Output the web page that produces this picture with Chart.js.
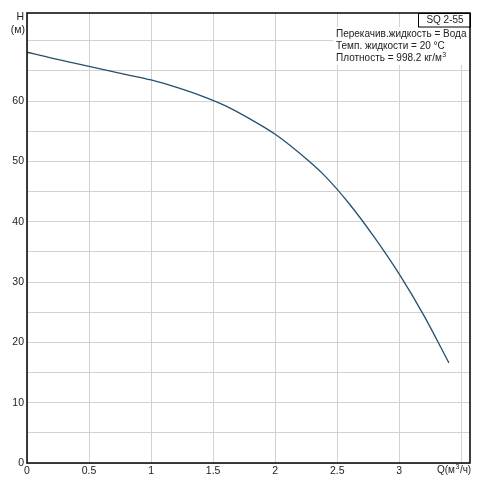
<!DOCTYPE html>
<html>
<head>
<meta charset="utf-8">
<script src="https://cdn.jsdelivr.net/npm/chart.js@4"></script>
<style>
html,body{margin:0;padding:0;background:#fff;}
#c{display:block;}
</style>
</head>
<body>
<canvas id="c" width="484" height="481"></canvas>
<script>
const flowQ = [0, 0.2, 0.4, 0.6, 0.8, 1.0, 1.2, 1.4, 1.6, 1.8, 2.0, 2.2, 2.4, 2.6, 2.8, 3.0, 3.2, 3.4];
const headH = [68.1, 67.1, 66.2, 65.3, 64.4, 63.5, 62.3, 60.9, 59.2, 57.0, 54.5, 51.3, 47.6, 42.9, 37.4, 31.3, 24.4, 16.6];
const xTickLabels = ['0', '0.5', '1', '1.5', '2', '2.5', '3'];
const yTickLabels = ['0', '10', '20', '30', '40', '50', '60'];
const pumpName = 'SQ 2-55';
const infoLines = ['Перекачив.жидкость = Вода', 'Темп. жидкости = 20 °C', 'Плотность = 998.2 кг/м'];

const FONT = 'Liberation Sans, Arial, sans-serif';

const overlay = {
  id: 'overlay',
  afterDraw(chart) {
    const ctx = chart.ctx;
    const a = chart.chartArea;
    ctx.save();
    // info block
    ctx.fillStyle = '#fff';
    ctx.fillRect(333, a.top + 14, a.right - 334, 38);
    ctx.strokeStyle = '#000';
    ctx.lineWidth = 1;
    ctx.fillStyle = '#fff';
    ctx.fillRect(418, a.top, a.right - 418, 14);
    ctx.strokeRect(418.5, a.top + 0.5, a.right - 418, 13.5);
    ctx.fillStyle = '#222';
    ctx.font = '10px ' + FONT;
    ctx.textBaseline = 'middle';
    ctx.textAlign = 'center';
    ctx.fillText(pumpName, (418 + a.right) / 2 + 1, a.top + 7.5);
    ctx.textAlign = 'left';
    ctx.fillText(infoLines[0], 336, a.top + 21);
    ctx.fillText(infoLines[1], 336, a.top + 33);
    ctx.fillText(infoLines[2], 336, a.top + 45);
    const w2 = ctx.measureText(infoLines[2]).width;
    ctx.font = '7px ' + FONT;
    ctx.fillText('3', 336 + w2 + 0.5, a.top + 42);
    // frame
    ctx.strokeStyle = '#000';
    ctx.lineWidth = 1.5;
    ctx.strokeRect(a.left, a.top, a.right - a.left, a.bottom - a.top);
    // axis titles
    ctx.fillStyle = '#222';
    ctx.font = '10.5px ' + FONT;
    ctx.textAlign = 'right';
    ctx.fillText('H', 24, 17);
    ctx.fillText('(м)', 25, 30);
    // Q label
    ctx.textAlign = 'left';
    ctx.font = '10px ' + FONT;
    let x = 437;
    const y = 470;
    ctx.fillText('Q(м', x, y);
    x += ctx.measureText('Q(м').width;
    ctx.font = '7px ' + FONT;
    ctx.fillText('3', x + 0.5, y - 3);
    x += ctx.measureText('3').width + 1;
    ctx.font = '10px ' + FONT;
    ctx.fillText('/ч)', x, y);
    ctx.restore();
  }
};

new Chart(document.getElementById('c'), {
  type: 'line',
  data: {
    datasets: [{
      data: flowQ.map((q, i) => ({x: q, y: headH[i]})),
      borderColor: '#24506e',
      borderWidth: 1.3,
      pointRadius: 0,
      fill: false,
      cubicInterpolationMode: 'monotone'
    }]
  },
  options: {
    responsive: false,
    animation: false,
    events: [],
    layout: {padding: {left: 0, top: 13, right: 14, bottom: 0}},
    plugins: {legend: {display: false}, tooltip: {enabled: false}},
    scales: {
      x: {
        type: 'linear',
        min: 0,
        max: 3.57,
        afterFit(s) { s.height = 18; },
        afterBuildTicks(s) {
          s.ticks = [0, 0.5, 1, 1.5, 2, 2.5, 3, 3.5].map(v => ({value: v}));
        },
        grid: {color: '#d2d2d2', lineWidth: 1, drawTicks: false},
        border: {display: false},
        ticks: {
          padding: 2,
          maxRotation: 0,
          autoSkip: false,
          color: '#222',
          font: {family: FONT, size: 10.5},
          callback(v) { const i = [0, 0.5, 1, 1.5, 2, 2.5, 3].indexOf(v); return i >= 0 ? xTickLabels[i] : ''; }
        }
      },
      y: {
        type: 'linear',
        min: 0,
        max: 74.6,
        afterFit(s) { s.width = 27; },
        afterBuildTicks(s) {
          const t = [];
          for (let v = 0; v <= 70; v += 5) t.push({value: v});
          s.ticks = t;
        },
        grid: {color: '#d2d2d2', lineWidth: 1, drawTicks: false},
        border: {display: false},
        ticks: {
          padding: 3,
          autoSkip: false,
          color: '#222',
          font: {family: FONT, size: 10.5},
          callback(v) { const i = [0, 10, 20, 30, 40, 50, 60].indexOf(v); return i >= 0 ? yTickLabels[i] : ''; }
        }
      }
    }
  },
  plugins: [overlay]
});
</script>
</body>
</html>
